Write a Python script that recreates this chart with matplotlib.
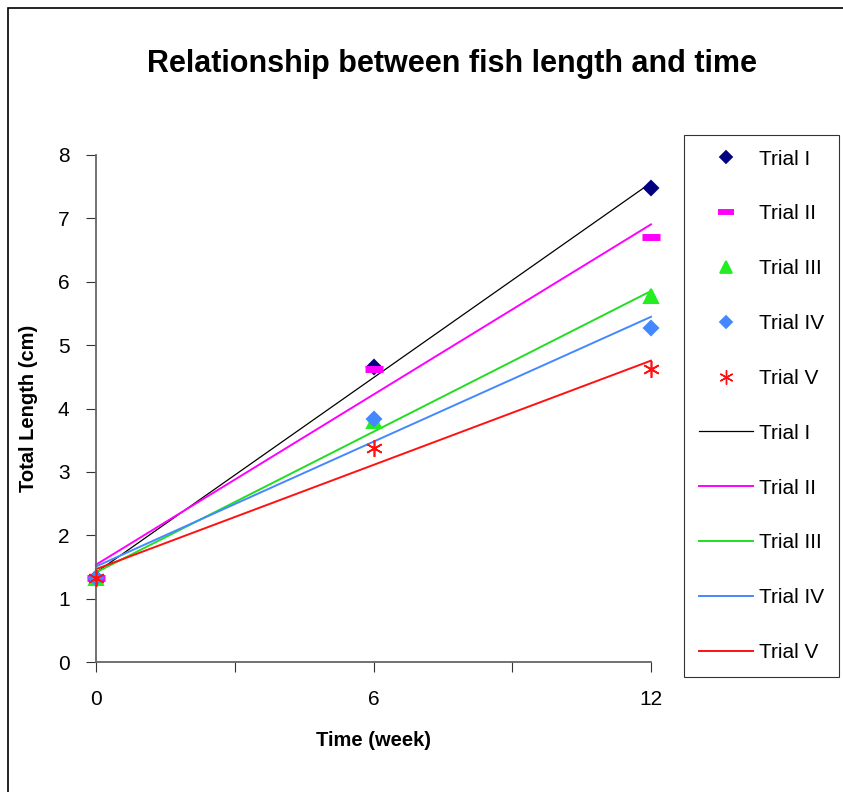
import numpy as np
import matplotlib.pyplot as plt
from matplotlib.lines import Line2D
from matplotlib.patches import Rectangle

plt.rcParams['font.family'] = ['Liberation Sans', 'DejaVu Sans']

weeks = [0, 6, 12]
trials = ['Trial I', 'Trial II', 'Trial III', 'Trial IV', 'Trial V']
trial_1 = [1.33, 4.65, 7.48]
trial_2 = [1.33, 4.63, 6.70]
trial_3 = [1.33, 3.80, 5.77]
trial_4 = [1.33, 3.83, 5.27]
trial_5 = [1.33, 3.38, 4.62]

marker_colors = ['#000080', '#ff00ff', '#22ee22', '#4488ff', '#ff1111']
line_colors = ['#000000', '#ff00ff', '#22dd22', '#4488ff', '#ff1111']
markers = ['D', '_', '^', 'D', (6, 2, 0)]
marker_sizes = [7, 13, 10, 7, 12]
edge_widths = [1.5, 5, 1.5, 1.5, 1.2]
line_widths = [0.9, 1.4, 1.4, 1.4, 1.4]

fig = plt.figure(figsize=(8.43, 7.92), dpi=100)
fig.patches.append(Rectangle((0.009, -0.01), 1.2, 1.0, transform=fig.transFigure,
                             fill=False, edgecolor='black', linewidth=1.2))
ax = fig.add_axes([96 / 843, 1 - 662 / 792, 555 / 843, 507 / 792])

series = [trial_1, trial_2, trial_3, trial_4, trial_5]
x = np.array(weeks)
for vals, mc, mk, ms, ew in zip(series, marker_colors, markers, marker_sizes, edge_widths):
    ax.plot(x, vals, linestyle='none', marker=mk, color=mc, markersize=ms,
            markeredgewidth=ew, zorder=3, clip_on=False)

# linear trend lines
for vals, lc, lw in zip(series, line_colors, line_widths):
    k, b = np.polyfit(x, vals, 1)
    ax.plot([0, 12], [b, b + 12 * k], color=lc, linewidth=lw, zorder=2, clip_on=False)

ax.set_xlim(0, 12)
ax.set_ylim(0, 8)
ax.set_xticks([0, 3, 6, 9, 12])
ax.set_xticklabels(['0', '', '6', '', '12'])
ax.set_yticks(range(9))
ax.tick_params(axis='both', labelsize=15, length=7, direction='out', color='#333333')
ax.tick_params(axis='y', pad=12)
ax.tick_params(axis='x', pad=13)
for side in ['top', 'right']:
    ax.spines[side].set_visible(False)
for side in ['left', 'bottom']:
    ax.spines[side].set_color('#666666')
    ax.spines[side].set_linewidth(1.3)

ax.set_xlabel('Time (week)', fontsize=14.5, fontweight='bold', labelpad=16)
ax.set_ylabel('Total Length (cm)', fontsize=14.5, fontweight='bold', labelpad=14)
fig.text(0.536, 1 - 64 / 792, 'Relationship between fish length and time',
         ha='center', va='center', fontsize=22, fontweight='bold')

handles = []
for mc, mk, ms, ew in zip(marker_colors, markers, marker_sizes, edge_widths):
    handles.append(Line2D([], [], linestyle='none', marker=mk, color=mc,
                          markersize=ms * 0.85, markeredgewidth=ew * 0.85))
for lc, lw in zip(line_colors, line_widths):
    handles.append(Line2D([], [], color=lc, linewidth=lw))
leg = fig.legend(handles, trials + trials, loc='upper left',
                 bbox_to_anchor=(684 / 843, 1 - 135 / 792), fontsize=15,
                 frameon=True, fancybox=False, edgecolor='black',
                 handlelength=2.6, labelspacing=1.72, borderpad=0.7,
                 handletextpad=0.3, borderaxespad=0)
leg.get_frame().set_linewidth(0.8)

fig.savefig('out.png', dpi=100)
